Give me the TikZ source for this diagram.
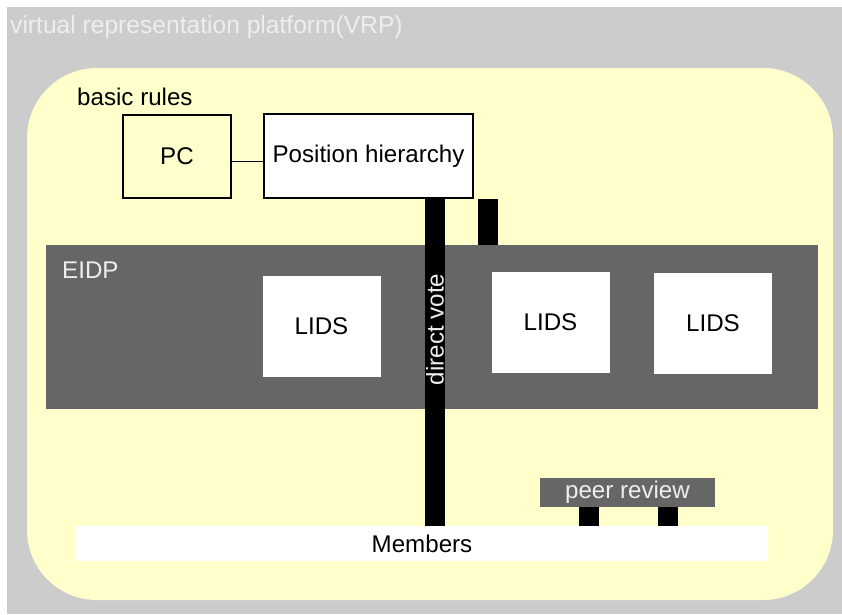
\documentclass[tikz,border=0pt]{standalone}
\usepackage{fontspec}
\setmainfont{Liberation Sans}
\usetikzlibrary{positioning}
\definecolor{vrpgray}{HTML}{CCCCCC}
\definecolor{ruleyellow}{HTML}{FFFFCC}
\definecolor{eidpgray}{HTML}{666666}
\definecolor{paletext}{HTML}{EEEEEE}
\tikzset{txt/.style = {font = \fontsize{20.6}{24}\selectfont}}
\tikzset{rulebox/.style = {draw, line width = 1.1pt, txt, inner sep = 0}}
\tikzset{lids/.style = {fill = white, txt, minimum width = 3.54cm, minimum height = 3.03cm}}
\tikzset{bar/.style = {line width = 0.6cm, black}}

\begin{document}
\begin{tikzpicture}[x=0.03cm, y=-0.03cm]
      \useasboundingbox (0, 0) rectangle (842, 614);
      \fill [white] (0, 0) rectangle (842, 614);
      \fill [vrpgray] (7, 7) rectangle (842, 614);
      \fill [ruleyellow, rounded corners = 2.1cm] (27, 68) rectangle (833, 600);

      \node [font = \fontsize{21}{25}\selectfont, text = paletext, anchor = west, inner sep = 0] (vrp) at (10, 27.5) {virtual representation platform(VRP)};
      \node [txt, anchor = west, inner sep = 0] (rules) at (77, 97) {basic rules};

      \node [rulebox, fill = ruleyellow, minimum width = 3.24cm, minimum height = 2.49cm] (pc) at (177, 156.5) {PC};
      \node [rulebox, fill = white, minimum width = 6.27cm, minimum height = 2.52cm] (hier) at (368.5, 156) {Position hierarchy};
      \draw [line width = 1.1pt] ([yshift = -0.15cm] pc.east) -- ([yshift = -0.15cm] pc.east -| hier.west);

      \node [fill = eidpgray, minimum width = 23.16cm, minimum height = 4.92cm] (eidp) at (432, 327) {};
      \node [txt, text = paletext, anchor = west, inner sep = 0] (eidplabel) at (62, 270) {EIDP};

      \node [lids] (lids1) at (321.5, 326) {LIDS};
      \node [lids] (lids2) at (550.5, 322) {LIDS};
      \node [lids] (lids3) at (713, 323.5) {LIDS};

      \node [fill = white, txt, minimum width = 20.76cm, minimum height = 1.05cm] (members) at (422, 543.5) {Members};
      \node [fill = eidpgray, txt, text = paletext, inner sep = 0, minimum width = 5.25cm, minimum height = 0.87cm] (peer) at (627.5, 492.5) {peer review};

      \draw [bar] ([xshift = 1.995cm] hier.south) coordinate (dvtop) -- (dvtop |- members.north)
            node [pos = 0.4, rotate = 90, txt, text = paletext, inner sep = 0] (dv) {direct vote};
      \draw [bar] ([xshift = 3.57cm] hier.south) coordinate (hbtop) -- (hbtop |- eidp.north);
      \draw [bar] ([xshift = -1.155cm] peer.south) coordinate (pr1) -- (pr1 |- members.north);
      \draw [bar] ([xshift = 1.2cm] peer.south) coordinate (pr2) -- (pr2 |- members.north);
    \end{tikzpicture}
\end{document}
